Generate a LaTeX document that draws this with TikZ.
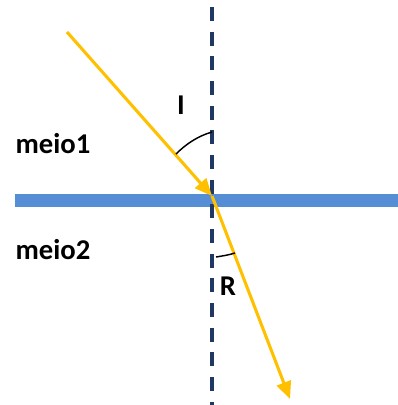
\documentclass[tikz,border=0pt]{standalone}
\usepackage{fontspec}
\setmainfont{Carlito}
\usetikzlibrary{arrows.meta}
\definecolor{ray}{HTML}{FFC000}
\definecolor{normal}{HTML}{203864}
\definecolor{bar}{HTML}{558ED5}
\tikzset{
  ray/.style={draw=ray, line width=2.3pt, -{Triangle[length=13pt,width=11pt]}},
  lbl/.style={font=\fontsize{21.5}{24}\selectfont\bfseries, inner sep=0pt},
  anglemark/.style={draw=black, line width=1.1pt}
}
\begin{document}
\begin{tikzpicture}[x=0.75pt,y=-0.75pt]
\useasboundingbox (0,0) rectangle (398,405);
% interface
\fill[bar] (15,194) rectangle (398,207);
% normal
\coordinate (ntop) at (212,7);
\coordinate (nbot) at (212,405);
\draw[normal, line width=2.3pt, dash pattern=on 10.5pt off 8pt] (ntop) -- (nbot);
% rays
\coordinate (src) at (67,32);
\coordinate (hit) at (212,196);
\coordinate (end) at (290,399);
\draw[ray] (src) -- (hit);
\draw[ray] (hit) -- (end);
% angle marks
\coordinate (ia) at (176,154);
\coordinate (ib) at (212,132);
\draw[anglemark] (ia) .. controls (186,144) and (198,136) .. (ib);
\coordinate (ra) at (216,257);
\coordinate (rb) at (235,253);
\draw[anglemark] (ra) .. controls (222,256) and (229,255) .. (rb);
% labels
\node[lbl] (m1) at (53,144) {meio1};
\node[lbl] (m2) at (53,250) {meio2};
\node[lbl] (li) at (181,105) {I};
\node[lbl] (lr) at (228,286) {R};
\end{tikzpicture}
\end{document}
